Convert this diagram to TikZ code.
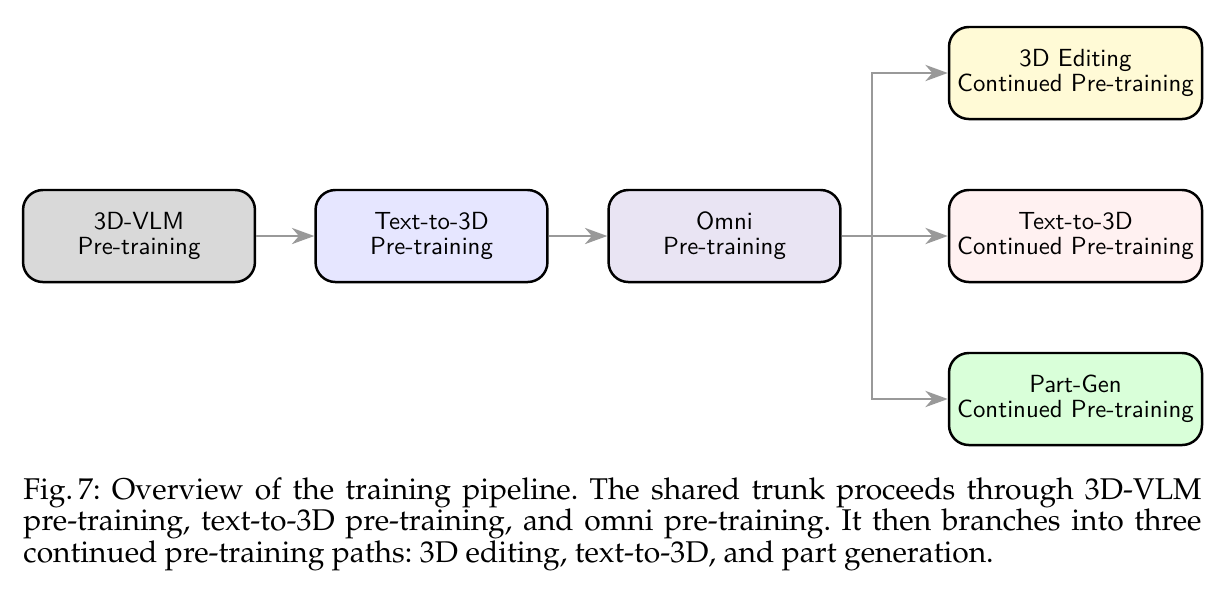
\documentclass[tikz,border=0pt]{standalone}
\usepackage[T1,TU]{fontenc}
\usepackage{tikz}
\usetikzlibrary{arrows.meta, positioning, calc}

\definecolor{vlmgray}{RGB}{217,217,217}
\definecolor{t3dblue}{RGB}{230,230,255}
\definecolor{omnililac}{RGB}{233,228,243}
\definecolor{edityellow}{RGB}{255,250,214}
\definecolor{contpink}{RGB}{255,241,241}
\definecolor{partgreen}{RGB}{217,255,217}

\begin{document}
\begin{tikzpicture}[x=0.4032pt, y=-0.4032pt,
    stage/.style={draw, line width=1pt, rounded corners=8pt, minimum width=93.5pt,
      minimum height=37.1pt, align=center, inner sep=0pt,
      font=\sffamily\fontsize{10}{10.2}\selectfont},
    branch/.style={stage, minimum width=102pt},
    flow/.style={draw=black!40, line width=1.15pt, -{Stealth[length=9pt, width=6.5pt, inset=2.8pt]}}]
    \useasboundingbox (0,0) rectangle (1226,589);

    % 主干训练阶段
    \node[stage, fill=vlmgray] (vlm) at (139,236) {3D-VLM\\Pre-training};
    \node[stage, fill=t3dblue] (t3d) at (431.5,236) {Text-to-3D\\Pre-training};
    \node[stage, fill=omnililac] (omni) at (724.5,236) {Omni\\Pre-training};

    % 三个继续预训练分支
    \node[branch, fill=edityellow] (edit) at (1075.5,73) {3D Editing\\Continued Pre-training};
    \node[branch, fill=contpink] (cont) at (1075.5,236) {Text-to-3D\\Continued Pre-training};
    \node[branch, fill=partgreen] (part) at (1075.5,399) {Part-Gen\\Continued Pre-training};

    % 主干箭头
    \draw[flow] (vlm) -- (t3d);
    \draw[flow] (t3d) -- (omni);

    % 分叉点与分支箭头
    \coordinate (fork) at (872,236);
    \draw[flow] (omni.east) -- (fork) |- (edit.west);
    \draw[flow] (omni.east) -- (cont.west);
    \draw[flow] (omni.east) -- (fork) |- (part.west);

    % 图注
    \node[anchor=north west, inner sep=0pt, text width=475pt, align=justify,
      font=\fontencoding{T1}\fontfamily{ppl}\fontsize{12.1}{12.7}\selectfont\frenchspacing] (cap) at (23,477)
      {Fig.\,7: Overview of the training pipeline. The shared trunk proceeds through 3D-VLM\linebreak
      pre-training, text-to-3D pre-training, and omni pre-training. It then branches into three\linebreak
      continued pre-training paths: 3D editing, text-to-3D, and part generation.};
  \end{tikzpicture}
\end{document}
